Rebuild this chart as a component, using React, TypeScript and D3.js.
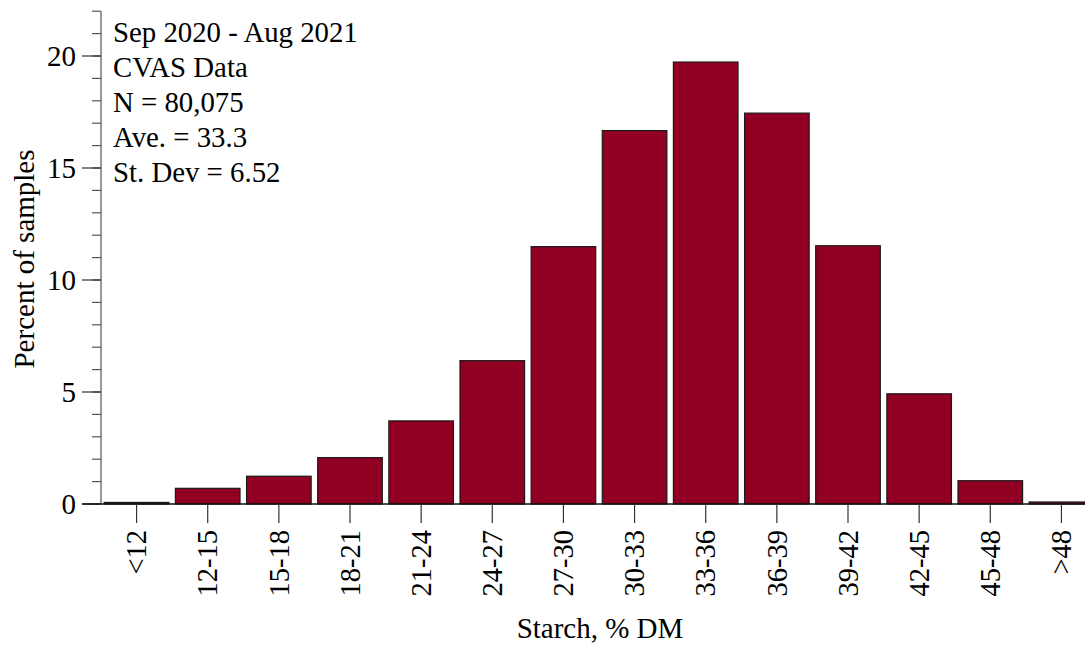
import React from "react";
import * as d3 from "d3";

// Starch distribution, percent of samples per 3-unit bin
const categories = ["<12", "12-15", "15-18", "18-21", "21-24", "24-27", "27-30", "30-33", "33-36", "36-39", "39-42", "42-45", "45-48", ">48"];
const percents = [0.07, 0.70, 1.24, 2.07, 3.71, 6.40, 11.49, 16.67, 19.73, 17.45, 11.53, 4.92, 1.04, 0.09];
const majorTicks = [0, 5, 10, 15, 20];
const minorTicks = d3.range(0, 23, 1);
const infoLines = ["Sep 2020 - Aug 2021", "CVAS Data", "N = 80,075", "Ave. = 33.3", "St. Dev = 6.52"];

const W = 1085;
const H = 645;
const FONT = "'Liberation Serif', 'Times New Roman', serif";

export default function App() {
  const x = d3.scaleBand<string>()
    .domain(categories)
    .range([101, 1097])
    .paddingInner(0.092)
    .paddingOuter(0.046);
  const y = d3.scaleLinear().domain([0, 22]).range([504, 11.2]);
  const x0 = 101;
  const base = y(0);

  return (
    <svg width={W} height={H} style={{ position: "absolute", left: 0, top: 0, background: "#fff" }} fontFamily={FONT}>
      {/* bars */}
      {categories.map((c, i) => (
        <rect
          key={c}
          x={x(c)}
          y={y(percents[i])}
          width={x.bandwidth()}
          height={base - y(percents[i])}
          fill="#910022"
          stroke="#1a1a1a"
          strokeWidth={1.2}
        />
      ))}

      {/* y axis */}
      <line x1={x0} x2={x0} y1={y(22)} y2={base} stroke="#555" strokeWidth={1.2} />
      {minorTicks.map((t) => (
        <line key={"m" + t} x1={x0 - 9} x2={x0} y1={y(t)} y2={y(t)} stroke="#555" strokeWidth={1.2} />
      ))}
      {majorTicks.map((t) => (
        <g key={"t" + t}>
          <line x1={x0 - 19} x2={x0} y1={y(t)} y2={y(t)} stroke="#333" strokeWidth={1.2} />
          <text x={x0 - 25} y={y(t)} dy="0.34em" textAnchor="end" fontSize={29} fill="#000">
            {t}
          </text>
        </g>
      ))}
      <text
        transform={`translate(34,${259}) rotate(-90)`}
        textAnchor="middle"
        fontSize={29}
        fill="#000"
      >
        Percent of samples
      </text>

      {/* x axis */}
      <line x1={x0 - 19} x2={W} y1={base} y2={base} stroke="#111" strokeWidth={1.3} />
      {categories.map((c) => {
        const cx = (x(c) as number) + x.bandwidth() / 2;
        return (
          <g key={"x" + c}>
            <line x1={cx} x2={cx} y1={base} y2={base + 19} stroke="#333" strokeWidth={1.2} />
            <text
              transform={`translate(${cx},${base + 26}) rotate(-90)`}
              dy="0.34em"
              textAnchor="end"
              fontSize={28.5}
              fill="#000"
            >
              {c}
            </text>
          </g>
        );
      })}
      <text x={600} y={638} textAnchor="middle" fontSize={29} fill="#000">
        Starch, % DM
      </text>

      {/* summary text */}
      {infoLines.map((s, i) => (
        <text key={s} x={113} y={41.7 + i * 35} fontSize={28.8} fill="#000">
          {s}
        </text>
      ))}
    </svg>
  );
}
